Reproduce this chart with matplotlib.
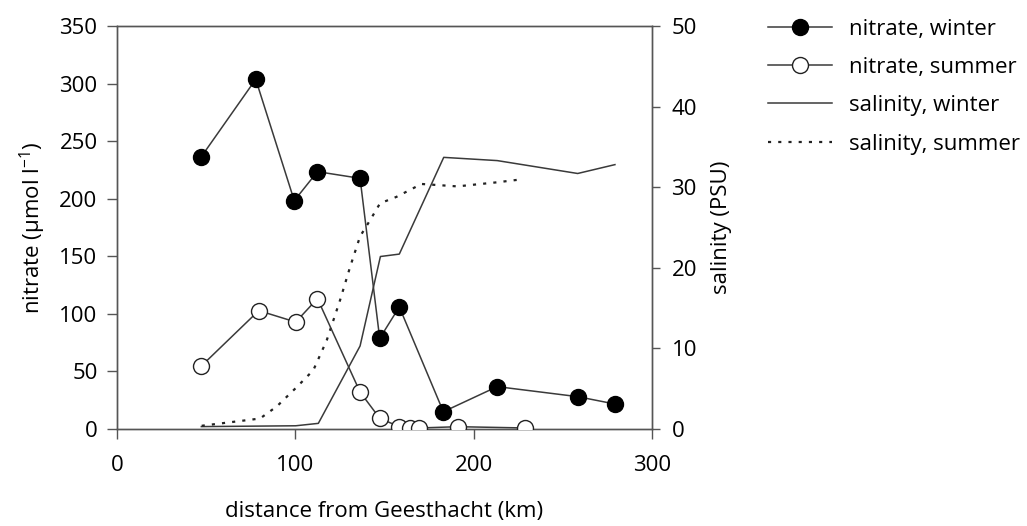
import numpy as np
import matplotlib
matplotlib.use('Agg')
import matplotlib.pyplot as plt
from matplotlib.lines import Line2D

plt.rcParams['font.family'] = ['Open Sans', 'DejaVu Sans']
plt.rcParams['mathtext.fontset'] = 'custom'
plt.rcParams['mathtext.rm'] = 'Open Sans'
plt.rcParams['mathtext.default'] = 'regular'

# nitrate (µmol l-1), left axis
dist_no3_winter = [47.3, 77.8, 99.4, 112.4, 136.3, 147.3, 158.3, 183.0, 213.2, 258.3, 279.2]
no3_winter = [236.5, 303.7, 198.3, 223.5, 217.7, 78.7, 106.0, 15.0, 36.8, 28.1, 21.7]

dist_no3_summer = [47.3, 79.5, 100.2, 112.4, 136.3, 147.3, 158.3, 164.3, 169.3, 191.4, 228.7]
no3_summer = [54.7, 102.8, 92.9, 113.2, 32.1, 9.3, 2.0, 0.9, 0.9, 2.0, 0.9]

# salinity (PSU), right axis
dist_sal_winter = [47.3, 100.2, 112.9, 136.3, 147.7, 158.3, 183.2, 213.2, 258.3, 279.2]
sal_winter = [0.3, 0.4, 0.7, 10.3, 21.4, 21.7, 33.7, 33.3, 31.7, 32.8]

dist_sal_summer = [47.5, 80.2, 89.6, 100.8, 110.1, 117.6, 125.1, 130.7, 136.3, 141.9,
                   147.5, 156.7, 170.7, 190.8, 212.8, 227.9]
sal_summer = [0.4, 1.3, 2.8, 5.2, 7.3, 11.0, 16.0, 20.1, 23.9, 25.9,
              28.0, 28.8, 30.4, 30.1, 30.6, 31.0]

x_ticks = [0, 100, 200, 300]
no3_ticks = [0, 50, 100, 150, 200, 250, 300, 350]
sal_ticks = [0, 10, 20, 30, 40, 50]

fs = 16
line_col = '#3a3a3a'
spine_col = '#555555'
dots = (0, (1.4, 3.2))

fig = plt.figure(figsize=(10.27, 5.26), dpi=100)
ax = fig.add_axes([0.1139, 0.1844, 0.5210, 0.7662])
ax2 = ax.twinx()

# salinity first so nitrate symbols sit on top
ax2.plot(dist_sal_winter, sal_winter, '-', color=line_col, lw=1.1)
ax2.plot(dist_sal_summer, sal_summer, color='#222222', lw=1.6, linestyle=dots)

ax.plot(dist_no3_winter, no3_winter, '-o', color=line_col, lw=1.1,
        markersize=11.5, markerfacecolor='black', markeredgecolor='black', zorder=5)
ax.plot(dist_no3_summer, no3_summer, '-o', color=line_col, lw=1.1,
        markersize=11.5, markerfacecolor='white', markeredgecolor='#222222',
        markeredgewidth=1.0, zorder=6)

ax.set_zorder(ax2.get_zorder() + 1)
ax.patch.set_visible(False)

ax.set_xlim(0, 300)
ax.set_ylim(0, 350)
ax2.set_ylim(0, 50)
ax.set_xticks(x_ticks)
ax.set_yticks(no3_ticks)
ax2.set_yticks(sal_ticks)

for a in (ax, ax2):
    for s in a.spines.values():
        s.set_color(spine_col)
        s.set_linewidth(1.0)
ax.tick_params(axis='x', direction='out', length=7, width=1.0, color=spine_col,
               labelsize=fs, pad=12)
ax.tick_params(axis='y', direction='out', length=7, width=1.0, color=spine_col,
               labelsize=fs, pad=7)
ax2.tick_params(axis='y', direction='out', length=6, width=1.0, color=spine_col,
                labelsize=fs, pad=8)

ax.set_xlabel('distance from Geesthacht (km)', fontsize=fs, labelpad=18)
ax.set_ylabel('nitrate (µmol l$^{-1}$)', fontsize=fs, labelpad=8)
ax2.set_ylabel('salinity (PSU)', fontsize=fs, labelpad=10)

handles = [
    Line2D([], [], color=line_col, lw=1.1, marker='o', markersize=11.5,
           markerfacecolor='black', markeredgecolor='black'),
    Line2D([], [], color=line_col, lw=1.1, marker='o', markersize=11.5,
           markerfacecolor='white', markeredgecolor='#222222'),
    Line2D([], [], color=line_col, lw=1.1),
    Line2D([], [], color='#222222', lw=1.6, linestyle=dots),
]
labels = ['nitrate, winter', 'nitrate, summer', 'salinity, winter', 'salinity, summer']
fig.legend(handles, labels, loc='upper left', bbox_to_anchor=(0.735, 0.99),
           frameon=False, fontsize=fs, handlelength=2.85, handletextpad=0.8,
           labelspacing=0.78, borderaxespad=0.2)

fig.savefig('out.png', dpi=100)
